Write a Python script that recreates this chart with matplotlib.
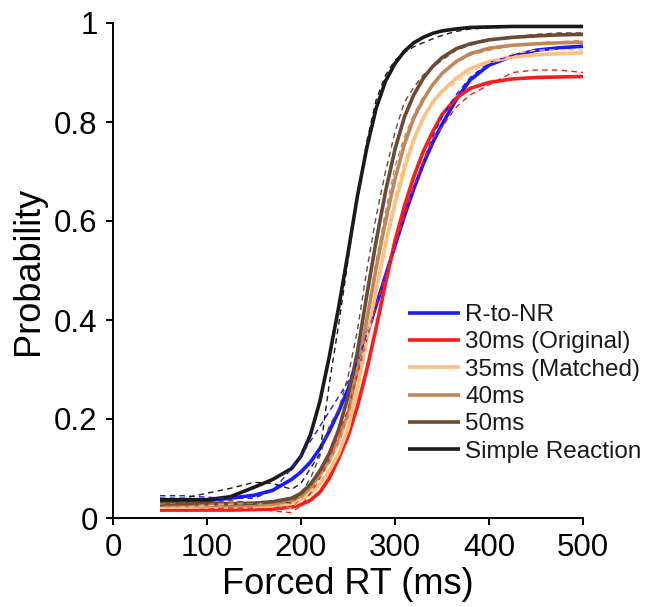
import numpy as np
import matplotlib
matplotlib.use('Agg')
import matplotlib.pyplot as plt

plt.rcParams['font.family'] = ['Liberation Sans', 'DejaVu Sans']

# forced RT grid (ms)
rt = [50, 75, 100, 125, 150, 170, 190, 200, 210, 220, 230, 240, 250, 260, 270,
      280, 290, 300, 310, 320, 330, 340, 350, 365, 380, 400, 425, 450, 475, 500]

labels = ['R-to-NR', '30ms (Original)', '35ms (Matched)', '40ms', '50ms', 'Simple Reaction']
colors = ['#1a1aff', '#ff1a1a', '#ffbf80', '#c0875a', '#6b4a36', '#1a1a1a']

# fitted curves (solid)
fit_rnr = [0.034, 0.034, 0.035, 0.04, 0.046, 0.056, 0.078, 0.093, 0.113, 0.14, 0.175, 0.215,
           0.26, 0.315, 0.37, 0.43, 0.49, 0.55, 0.61, 0.665, 0.715, 0.758, 0.795, 0.845,
           0.885, 0.915, 0.933, 0.945, 0.95, 0.953]
fit_30 = [0.016, 0.016, 0.016, 0.016, 0.017, 0.018, 0.022, 0.027, 0.036, 0.052, 0.08, 0.12,
          0.165, 0.225, 0.3, 0.385, 0.475, 0.56, 0.63, 0.69, 0.74, 0.78, 0.815, 0.848,
          0.868, 0.88, 0.887, 0.89, 0.891, 0.892]
fit_35 = [0.022, 0.022, 0.022, 0.022, 0.023, 0.025, 0.03, 0.037, 0.05, 0.068, 0.095, 0.13,
          0.18, 0.26, 0.36, 0.46, 0.555, 0.635, 0.705, 0.765, 0.808, 0.84, 0.862, 0.888,
          0.908, 0.922, 0.931, 0.936, 0.938, 0.94]
fit_40 = [0.025, 0.025, 0.025, 0.025, 0.026, 0.028, 0.035, 0.045, 0.06, 0.085, 0.115, 0.155,
          0.21, 0.3, 0.4, 0.505, 0.6, 0.685, 0.755, 0.808, 0.845, 0.875, 0.898, 0.922,
          0.938, 0.949, 0.955, 0.958, 0.96, 0.961]
fit_50 = [0.029, 0.029, 0.029, 0.029, 0.03, 0.033, 0.04, 0.05, 0.068, 0.095, 0.13, 0.178,
          0.245, 0.335, 0.45, 0.56, 0.66, 0.745, 0.81, 0.855, 0.888, 0.912, 0.93, 0.948,
          0.958, 0.966, 0.971, 0.974, 0.976, 0.977]
fit_sr = [0.037, 0.037, 0.037, 0.043, 0.062, 0.078, 0.1, 0.125, 0.168, 0.235, 0.325, 0.425,
          0.535, 0.65, 0.748, 0.828, 0.883, 0.918, 0.943, 0.96, 0.971, 0.979, 0.984, 0.988,
          0.991, 0.992, 0.993, 0.993, 0.993, 0.993]

# observed data (dashed)
obs_rnr = [0.045, 0.045, 0.042, 0.04, 0.04, 0.055, 0.1, 0.125, 0.155, 0.185, 0.215, 0.245,
           0.275, 0.315, 0.37, 0.43, 0.49, 0.55, 0.61, 0.665, 0.72, 0.77, 0.81, 0.855,
           0.89, 0.92, 0.935, 0.945, 0.95, 0.955]
obs_30 = [0.015, 0.016, 0.018, 0.02, 0.02, 0.014, 0.011, 0.025, 0.05, 0.08, 0.12, 0.17,
          0.22, 0.29, 0.36, 0.43, 0.49, 0.55, 0.61, 0.67, 0.72, 0.765, 0.79, 0.83,
          0.855, 0.875, 0.9, 0.905, 0.905, 0.9]
obs_35 = [0.02, 0.022, 0.025, 0.028, 0.03, 0.025, 0.02, 0.035, 0.055, 0.08, 0.11, 0.15,
          0.2, 0.27, 0.36, 0.46, 0.56, 0.65, 0.72, 0.77, 0.81, 0.835, 0.86, 0.88,
          0.9, 0.92, 0.938, 0.945, 0.946, 0.946]
obs_40 = [0.028, 0.03, 0.028, 0.03, 0.03, 0.025, 0.02, 0.04, 0.06, 0.085, 0.12, 0.16,
          0.21, 0.3, 0.41, 0.52, 0.62, 0.71, 0.77, 0.815, 0.85, 0.875, 0.9, 0.92,
          0.935, 0.945, 0.955, 0.96, 0.962, 0.965]
obs_50 = [0.025, 0.03, 0.03, 0.035, 0.03, 0.035, 0.03, 0.05, 0.08, 0.125, 0.185, 0.22,
          0.285, 0.38, 0.5, 0.61, 0.7, 0.78, 0.84, 0.87, 0.895, 0.91, 0.925, 0.945,
          0.955, 0.965, 0.972, 0.977, 0.98, 0.98]
obs_sr = [0.04, 0.04, 0.05, 0.06, 0.072, 0.07, 0.058, 0.07, 0.1, 0.13, 0.27, 0.39,
          0.52, 0.65, 0.76, 0.845, 0.895, 0.925, 0.94, 0.952, 0.96, 0.968, 0.975, 0.983,
          0.988, 0.99, 0.992, 0.993, 0.993, 0.993]

fits = [fit_rnr, fit_30, fit_35, fit_40, fit_50, fit_sr]
obs = [obs_rnr, obs_30, obs_35, obs_40, obs_50, obs_sr]

fig = plt.figure(figsize=(6.45, 6.07), dpi=100)
ax = fig.add_axes([113/645, 1-518/607, 470/645, 495/607])

for f, c, lab in zip(fits, colors, labels):
    ax.plot(rt, f, color=c, lw=2.6, label=lab, solid_capstyle='butt')
for o, c in zip(obs, colors):
    ax.plot(rt, o, color=c, lw=1.0, ls=(0, (4, 3)))

ax.set_xlim(0, 500)
ax.set_ylim(0, 1)
ax.set_xticks([0, 100, 200, 300, 400, 500])
ax.set_yticks([0, 0.2, 0.4, 0.6, 0.8, 1])
ax.set_yticklabels(['0', '0.2', '0.4', '0.6', '0.8', '1'])
for s in ['top', 'right']:
    ax.spines[s].set_visible(False)
for s in ['left', 'bottom']:
    ax.spines[s].set_linewidth(1.4)
ax.tick_params(direction='out', length=5, width=1.4, labelsize=22.5, pad=6)
ax.set_xlabel('Forced RT (ms)', fontsize=26, labelpad=3)
ax.set_ylabel('Probability', fontsize=26, labelpad=6)

leg = ax.legend(loc='upper left', bbox_to_anchor=(408/645, 1-304/607),
                bbox_transform=fig.transFigure, frameon=False, fontsize=17.5,
                handlelength=2.15, handletextpad=0.2, labelspacing=0.22,
                borderpad=0, borderaxespad=0)
for t in leg.get_texts():
    t.set_color('#1a1a1a')

fig.savefig('out.png', dpi=100)
